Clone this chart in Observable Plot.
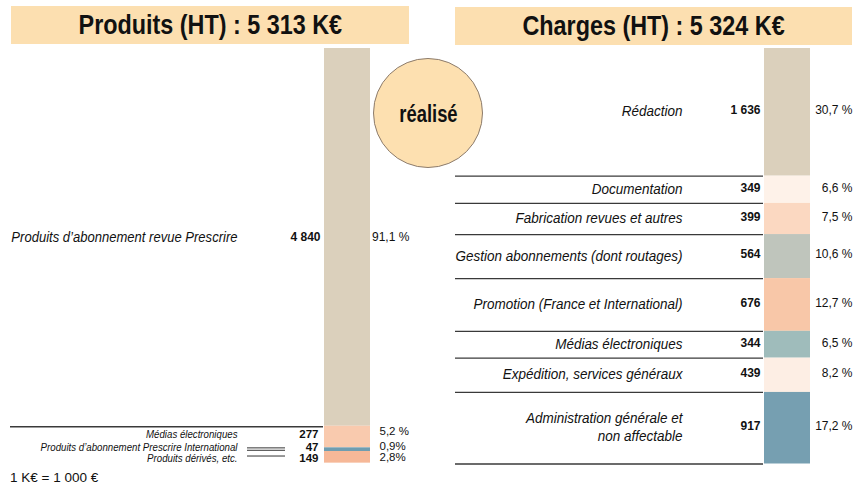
<!DOCTYPE html>
<html>
<head>
<meta charset="utf-8">
<script src="https://cdn.jsdelivr.net/npm/d3@7"></script>
<script src="https://cdn.jsdelivr.net/npm/@observablehq/plot@0.6"></script>
<style>
  html, body { margin: 0; padding: 0; background: #fff; }
  #wrap { position: relative; width: 856px; height: 488px; overflow: hidden; font-family: "Liberation Sans", Arial, sans-serif; }
  #chart { position: absolute; left: 0; top: 0; }
  .title { position: absolute; background: #fcdfb0; color: #111; text-align: center; height: 38px; line-height: 38px; white-space: nowrap; }
  .title span { display: inline-block; font-weight: bold; font-size: 27px; transform: scaleX(0.865); }
  #stamp { position: absolute; left: 373px; top: 58px; width: 108px; height: 108px; border-radius: 50%;
           background: #fde0b0; border: 1px solid #8c7b6b; display: flex; align-items: center; justify-content: center; }
  #stamp span { display: inline-block; font-weight: bold; font-size: 23px; color: #111; transform: scaleX(0.8); margin-top: 2px; }
  #note { position: absolute; left: 10px; top: 470px; font-size: 13.5px; color: #111; }
</style>
</head>
<body>
<div id="wrap">
  <div id="chart"></div>
  <div class="title" style="left:11px; top:6px; width:398px;"><span>Produits (HT) : 5 313 K€</span></div>
  <div class="title" style="left:455px; top:7px; width:397px;"><span>Charges (HT) : 5 324 K€</span></div>
  <div id="stamp"><span>réalisé</span></div>
  <div id="note">1 K€ = 1 000 €</div>
</div>
<script>
// ---- data ----
const sides = ["Produits", "Charges"];

const produitsLabels = [
  "Produits d’abonnement revue Prescrire",
  "Médias électroniques",
  "Produits d’abonnement Prescrire International",
  "Produits dérivés, etc."
];
const produitsValues = [4840, 277, 47, 149];
const produitsPct = ["91,1 %", "5,2 %", "0,9%", "2,8%"];
const produitsColors = ["#dbd0bc", "#f9caae", "#6f9db0", "#f6b898"];

const chargesLabels = [
  "Rédaction",
  "Documentation",
  "Fabrication revues et autres",
  "Gestion abonnements (dont routages)",
  "Promotion (France et International)",
  "Médias électroniques",
  "Expédition, services généraux",
  "Administration générale et\nnon affectable"
];
const chargesValues = [1636, 349, 399, 564, 676, 344, 439, 917];
const chargesPct = ["30,7 %", "6,6 %", "7,5 %", "10,6 %", "12,7 %", "6,5 %", "8,2 %", "17,2 %"];
const chargesColors = ["#dbd0bc", "#fef2e9", "#fbd8c1", "#bfc5bc", "#f8c7a8", "#9fbcbb", "#fdeee4", "#769fb1"];

// ---- build stacked rows ----
function build(side, labels, values, pct, colors) {
  let acc = 0;
  return values.map((v, i) => {
    const start = acc; acc += v;
    return { side, label: labels[i], value: v, pct: pct[i], color: colors[i], start, end: acc, mid: (start + acc) / 2, i };
  });
}
const produits = build("Produits", produitsLabels, produitsValues, produitsPct, produitsColors);
const charges = build("Charges", chargesLabels, chargesValues, chargesPct, chargesColors);
const rows = produits.concat(charges);

const fmt = d3.formatLocale({ decimal: ",", thousands: " ", grouping: [3] }).format(",d");
const total = d3.max([d3.sum(produitsValues), d3.sum(chargesValues)]);

const font = "Liberation Sans, Arial, sans-serif";
const ink = "#111";

const pMain = produits.filter(d => d.i === 0);
const pSmall = produits.filter(d => d.i > 0);

// vertical nudges for the tightly packed small rows (label/value, percent)
const smallLabelDy = [-3, -2.5, 1];
const smallPctDy = [-5.5, -3.5, 0];

const smallMarks = pSmall.flatMap((d, k) => [
  Plot.text([d], { x: "side", y: "mid", text: "label", textAnchor: "end", dx: -110, dy: smallLabelDy[k], fontFamily: font, fontStyle: "italic", fontSize: 11, fill: ink }),
  Plot.text([d], { x: "side", y: "mid", text: e => fmt(e.value), textAnchor: "end", dx: -29, dy: smallLabelDy[k], fontFamily: font, fontWeight: "bold", fontSize: 11.5, fill: ink }),
  Plot.text([d], { x: "side", y: "mid", text: "pct", textAnchor: "start", dx: 32, dy: smallPctDy[k], fontFamily: font, fontSize: 11.5, fill: ink })
]);

const chart = Plot.plot({
  width: 856,
  height: 488,
  margin: 0,
  x: { type: "band", domain: sides, range: [324, 810], paddingInner: 0.8955, paddingOuter: 0, axis: null },
  y: { domain: [0, total], range: [48, 463.5], axis: null },
  color: { type: "identity" },
  marks: [
    Plot.rectY(rows, { x: "side", y1: "start", y2: "end", fill: "color" }),

    // separators
    Plot.ruleY(charges, { y: "end", insetLeft: 455, insetRight: 93, stroke: "#3a3a3a", strokeWidth: 1.3 }),
    Plot.ruleY(pMain, { y: "end", dy: 0.5, insetLeft: 10, insetRight: 533, stroke: "#3a3a3a", strokeWidth: 1.3 }),
    Plot.ruleY(produits.filter(d => d.i === 2), { y: "mid", dy: -1.8, insetLeft: 247, insetRight: 571, stroke: "#333", strokeWidth: 1 }),
    Plot.ruleY(produits.filter(d => d.i === 2), { y: "mid", dy: 0.6, insetLeft: 247, insetRight: 571, stroke: "#333", strokeWidth: 1 }),
    Plot.ruleY(produits.filter(d => d.i === 3), { y: "mid", dy: -1.3, insetLeft: 247, insetRight: 571, stroke: "#333", strokeWidth: 1 }),

    // Charges labels
    Plot.text(charges, { x: "side", y: "mid", text: "label", textAnchor: "end", dx: -105, dy: -2, fontFamily: font, fontStyle: "italic", fontSize: 15.5, lineHeight: 1.2, fill: ink }),
    Plot.text(charges, { x: "side", y: "mid", text: d => fmt(d.value), textAnchor: "end", dx: -27, dy: -2, fontFamily: font, fontWeight: "bold", fontSize: 12, fill: ink }),
    Plot.text(charges, { x: "side", y: "mid", text: "pct", textAnchor: "end", dx: 65, dy: -2, fontFamily: font, fontSize: 12, fill: ink }),

    // Produits main label
    Plot.text(pMain, { x: "side", y: "mid", text: "label", textAnchor: "end", dx: -110, fontFamily: font, fontStyle: "italic", fontSize: 15, fill: ink }),
    Plot.text(pMain, { x: "side", y: "mid", text: d => fmt(d.value), textAnchor: "end", dx: -27, fontFamily: font, fontWeight: "bold", fontSize: 12, fill: ink }),
    Plot.text(pMain, { x: "side", y: "mid", text: "pct", textAnchor: "start", dx: 24.5, fontFamily: font, fontSize: 12, fill: ink }),

    ...smallMarks
  ]
});

// condense the italic labels horizontally (the reference uses a condensed face)
d3.select(chart).selectAll("text").each(function () {
  const g = this.closest("g[font-style]");
  if (!g || g.getAttribute("font-style") !== "italic") return;
  const fs = +(g.getAttribute("font-size") || 12);
  const s = fs < 13 ? 0.88 : 0.87;
  const el = d3.select(this);
  const x = +el.attr("x") || 0, y = +el.attr("y") || 0;
  const t = el.attr("transform") || "";
  el.attr("transform", `${t} translate(${x},${y}) scale(${s},1) translate(${-x},${-y})`);
});

document.getElementById("chart").appendChild(chart);
</script>
</body>
</html>
